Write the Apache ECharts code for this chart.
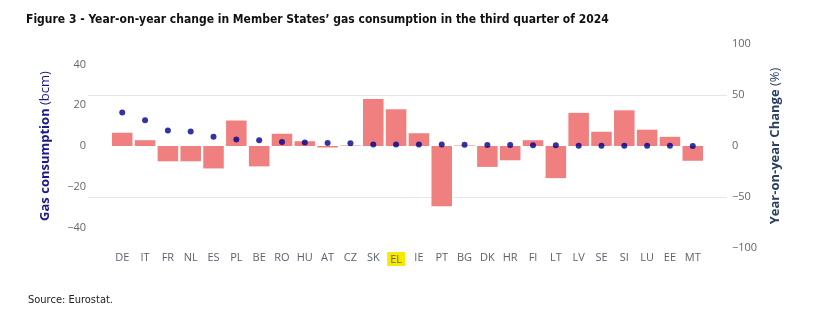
<!DOCTYPE html>
<html>
<head>
<meta charset="utf-8">
<script src="https://cdn.jsdelivr.net/npm/echarts@6/dist/echarts.min.js"></script>
<style>
  html, body { margin: 0; padding: 0; background: #fff; }
  #chartsbox { width: 828px; height: 311px; }
</style>
</head>
<body>
<div id="chartsbox"></div>
<script type="text/javascript">
    // member states, in the order of the figure
    var countries = ['DE','IT','FR','NL','ES','PL','BE','RO','HU','AT','CZ','SK','EL',
                     'IE','PT','BG','DK','HR','FI','LT','LV','SE','SI','LU','EE','MT'];
    // gas consumption Q3 2024 (bcm) - dots, left axis
    var consumption = [16.4, 12.6, 7.6, 7.1, 4.5, 3.2, 2.8, 2.0, 1.7, 1.5, 1.4, 0.7, 0.7,
                       0.7, 0.7, 0.6, 0.5, 0.5, 0.4, 0.4, 0.1, 0.1, 0.15, 0.15, 0.1, 0.05];
    // year-on-year change (%) - bars, right axis
    var yoyChange = [13, 5.7, -15, -15, -22, 25, -20, 12, 4.7, -1.5, 0.5, 46, 36,
                     12.5, -59, 0.5, -20.5, -14, 5.7, -31.5, 32.5, 14, 35, 16, 9, -14.5];
    var leftTicks = [-40, -20, 0, 20, 40];
    var rightTicks = [-100, -50, 0, 50, 100];

    // one empty slot each side so the plot area runs a little past the bars
    var xCats = [''].concat(countries, ['']);
    var barData = [null].concat(yoyChange, [null]);
    var dotData = [null].concat(consumption, [null]);

    function minus(v) { return String(v).replace('-', '\u2212'); }

    var myChart = echarts.init(document.getElementById('chartsbox'));
    var option = {
        animation: false,
        title: [
            {
                text: 'Figure 3 - Year-on-year change in Member States\u2019 gas consumption in the third quarter of 2024',
                left: 21, top: 9,
                textStyle: { fontFamily: 'Liberation Sans Narrow, DejaVu Sans Condensed, sans-serif', fontSize: 12, fontWeight: 'bold', color: '#111' }
            },
            {
                text: 'Source: Eurostat.',
                left: 23, top: 290,
                textStyle: { fontFamily: 'Liberation Sans Narrow, DejaVu Sans Condensed, sans-serif', fontSize: 11, fontWeight: 'normal', color: '#222' }
            }
        ],
        grid: { left: 88, right: 101, top: 44, bottom: 63 },
        xAxis: {
            type: 'category',
            data: xCats,
            axisLine: { show: false },
            axisTick: { show: false },
            axisLabel: {
                interval: 0,
                margin: 4,
                fontFamily: 'Open Sans',
                fontSize: 11,
                color: '#5a6270',
                formatter: function (v) { return v === 'EL' ? '{hl|EL}' : v; },
                rich: {
                    hl: { backgroundColor: '#f7ea00', padding: [2, 3, 1, 3], fontFamily: 'Open Sans', fontSize: 11, color: '#5a6270' }
                }
            }
        },
        yAxis: [
            {
                type: 'value',
                min: -50, max: 50, interval: 10,
                position: 'left',
                axisLine: { show: false },
                axisTick: { show: false },
                splitLine: { show: false },
                axisLabel: {
                    margin: 2,
                    fontFamily: 'Open Sans', fontSize: 11, color: '#666',
                    formatter: function (v) { return leftTicks.indexOf(v) >= 0 ? minus(v) : ''; }
                },
                name: '{b|Gas consumption} {n|(bcm)}',
                nameLocation: 'middle',
                nameRotate: 90,
                nameGap: 36,
                nameTextStyle: {
                    color: '#1a1a85',
                    rich: {
                        b: { fontFamily: 'Open Sans', fontSize: 13, fontWeight: 'bold', color: '#1a1a85' },
                        n: { fontFamily: 'Open Sans', fontSize: 13, color: '#1a1a85' }
                    }
                }
            },
            {
                type: 'value',
                min: -100, max: 100, interval: 50,
                position: 'right',
                axisLine: { show: false },
                axisTick: { show: false },
                splitLine: {
                    show: true,
                    lineStyle: { color: ['rgba(0,0,0,0)', '#e6e6e6', 'rgba(0,0,0,0)', '#e6e6e6', 'rgba(0,0,0,0)'], width: 1 }
                },
                axisLabel: {
                    margin: 5,
                    fontFamily: 'Open Sans', fontSize: 11, color: '#666',
                    formatter: function (v) { return rightTicks.indexOf(v) >= 0 ? minus(v) : ''; }
                },
                name: '{b|Year-on-year Change} {n|(%)}',
                nameLocation: 'middle',
                nameRotate: 90,
                nameGap: 42,
                nameTextStyle: {
                    color: '#2a3f5f',
                    rich: {
                        b: { fontFamily: 'Open Sans', fontSize: 13, fontWeight: 'bold', color: '#2a3f5f' },
                        n: { fontFamily: 'Open Sans', fontSize: 13, color: '#2a3f5f' }
                    }
                }
            }
        ],
        series: [
            {
                name: 'Year-on-year change',
                type: 'bar',
                yAxisIndex: 1,
                data: barData,
                barCategoryGap: '10%',
                itemStyle: { color: '#f08080' }
            },
            {
                name: 'Gas consumption',
                type: 'scatter',
                yAxisIndex: 0,
                data: dotData,
                symbolSize: 6,
                itemStyle: { color: '#00008b' },
                z: 5
            }
        ]
    };
    myChart.setOption(option);
</script>
</body>
</html>
